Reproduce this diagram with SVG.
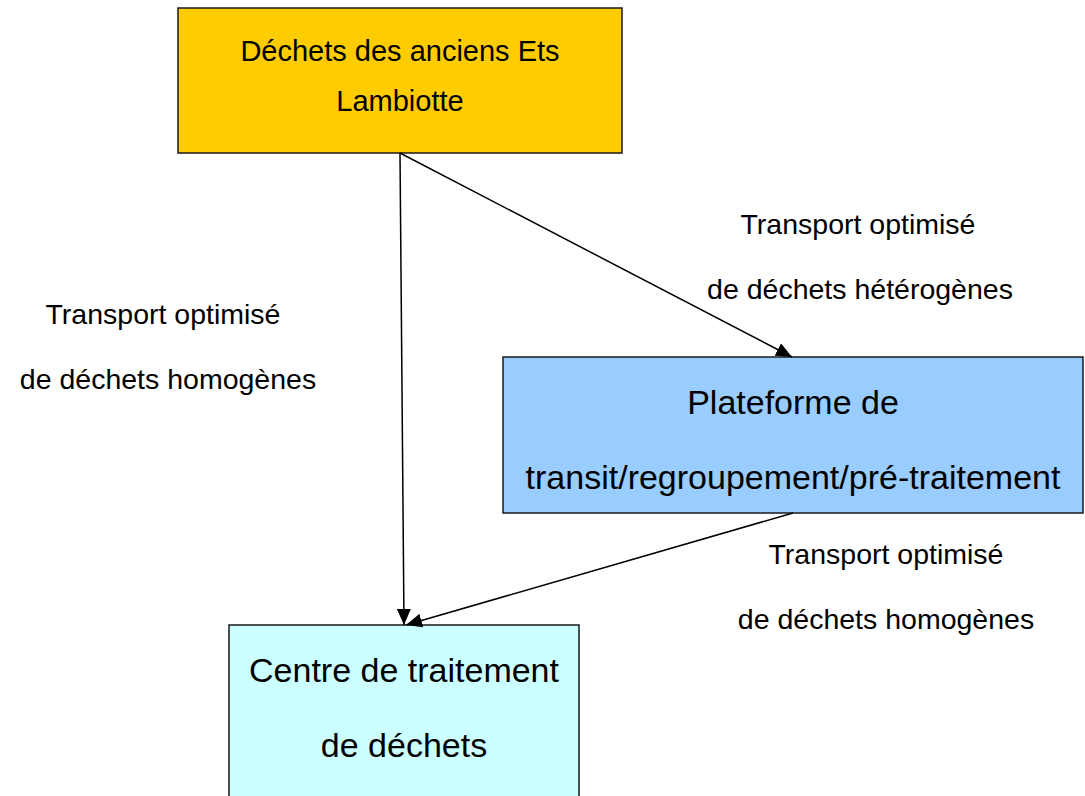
<svg xmlns="http://www.w3.org/2000/svg" width="1085" height="796" viewBox="0 0 1085 796">
<style>
text{font-family:"Liberation Sans",Arial,sans-serif;fill:#000;text-anchor:middle}
.box{stroke:#1a1a1a;stroke-width:1.5}
.lbl{font-size:28.5px}
.conn{stroke:#000;stroke-width:1.5;fill:none;marker-end:url(#ah)}
</style>
<defs>
<marker id="ah" markerUnits="userSpaceOnUse" markerWidth="16" markerHeight="14" refX="16" refY="7" orient="auto" viewBox="0 0 16 14">
<path d="M0,0 L16,7 L0,14 z" fill="#000"/>
</marker>
</defs>
<rect width="1085" height="796" fill="#fff"/>
<g id="node-source">
<rect class="box" x="178" y="8" width="444" height="145" fill="#FFCC00"/>
<text x="400" y="61" font-size="29">Déchets des anciens Ets</text>
<text x="400" y="111" font-size="29">Lambiotte</text>
</g>
<g id="node-plateforme">
<rect class="box" x="503" y="357" width="580" height="156" fill="#99CCFF"/>
<text x="793" y="414" font-size="34">Plateforme de</text>
<text x="793" y="489" font-size="34">transit/regroupement/pré-traitement</text>
</g>
<g id="node-centre">
<rect class="box" x="229" y="625" width="350" height="180" fill="#CCFFFF"/>
<text x="404" y="682" font-size="34">Centre de traitement</text>
<text x="404" y="757" font-size="34">de déchets</text>
</g>
<g id="connectors">
<line class="conn" x1="400" y1="153" x2="404" y2="625"/>
<line class="conn" x1="400" y1="153" x2="792" y2="357"/>
<line class="conn" x1="793" y1="513" x2="406" y2="625"/>
</g>
<g id="labels">
<text class="lbl" x="163" y="324">Transport optimisé</text>
<text class="lbl" x="168" y="389">de déchets homogènes</text>
<text class="lbl" x="858" y="234">Transport optimisé</text>
<text class="lbl" x="860" y="299">de déchets hétérogènes</text>
<text class="lbl" x="886" y="564">Transport optimisé</text>
<text class="lbl" x="886" y="629">de déchets homogènes</text>
</g>
</svg>
